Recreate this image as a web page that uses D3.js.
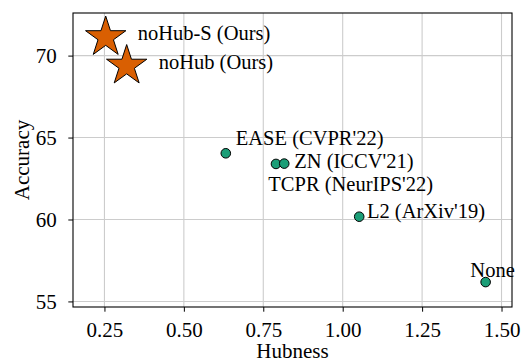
<!DOCTYPE html>
<html>
<head>
<meta charset="utf-8">
<script src="https://cdn.jsdelivr.net/npm/d3@7"></script>
<style>
  body { margin: 0; background: #fff; }
  svg { display: block; }
  text { font-family: "Liberation Serif", "DejaVu Serif", serif; fill: #000; }
</style>
</head>
<body>
<div id="chart"></div>
<script>
// methods (ours are stars, others dots)
var ours = ['noHub-S (Ours)', 'noHub (Ours)']
var oursHub = [0.254, 0.32]
var oursAcc = [71.12, 69.38]

var methods = ['EASE (CVPR\'22)', 'TCPR (NeurIPS\'22)', 'ZN (ICCV\'21)', 'L2 (ArXiv\'19)', 'None']
var methodsHub = [0.632, 0.79, 0.816, 1.052, 1.45]
var methodsAcc = [64.04, 63.39, 63.41, 60.17, 56.18]

var xTicks = [0.25, 0.50, 0.75, 1.00, 1.25, 1.50]
var yTicks = [55, 60, 65, 70]

var width = 528
var height = 363
var margin = {top: 13, right: 16, bottom: 56, left: 73}
var w = width - margin.left - margin.right
var h = height - margin.top - margin.bottom
var fs = 21
var labelFs = 20.5

var x = d3.scaleLinear().domain([0.151, 1.533]).range([0, w])
var y = d3.scaleLinear().domain([54.66, 72.6]).range([h, 0])

var svg = d3.select('#chart')
  .append('svg')
  .attr('width', width)
  .attr('height', height)
var g = svg.append('g')
  .attr('transform', 'translate(' + margin.left + ',' + margin.top + ')')

// grid
g.append('g')
  .selectAll('line')
  .data(xTicks)
  .enter()
  .append('line')
  .attr('x1', (d) => x(d)).attr('x2', (d) => x(d))
  .attr('y1', 0).attr('y2', h)
  .attr('stroke', '#cccccc')
  .attr('stroke-width', 1.1)
g.append('g')
  .selectAll('line')
  .data(yTicks)
  .enter()
  .append('line')
  .attr('x1', 0).attr('x2', w)
  .attr('y1', (d) => y(d)).attr('y2', (d) => y(d))
  .attr('stroke', '#cccccc')
  .attr('stroke-width', 1.1)

// axes
var xAxis = g.append('g')
  .attr('transform', 'translate(0,' + h + ')')
  .call(d3.axisBottom(x).tickValues(xTicks).tickFormat(d3.format('.2f')).tickSize(4.7))
var yAxis = g.append('g')
  .call(d3.axisLeft(y).tickValues(yTicks).tickFormat(d3.format('d')).tickSize(4.7).tickPadding(11.5))
;[xAxis, yAxis].forEach((a) => {
  a.select('.domain').remove()
  a.selectAll('text').attr('font-size', fs).attr('font-family', '"Liberation Serif", serif').attr('fill', '#000')
  a.selectAll('line').attr('stroke', '#000').attr('stroke-width', 1)
})
xAxis.selectAll('text').attr('y', 30).attr('dy', 0)

g.append('rect')
  .attr('x', 0).attr('y', 0)
  .attr('width', w).attr('height', h)
  .attr('fill', 'none')
  .attr('stroke', '#000')
  .attr('stroke-width', 1.1)

// axis titles
svg.append('text')
  .attr('x', margin.left + w / 2)
  .attr('y', 358)
  .attr('text-anchor', 'middle')
  .attr('font-size', fs)
  .text('Hubness')
svg.append('text')
  .attr('transform', 'translate(29,' + (margin.top + h / 2) + ') rotate(-90)')
  .attr('text-anchor', 'middle')
  .attr('font-size', fs)
  .text('Accuracy')

// points
g.selectAll('circle.m')
  .data(methods)
  .enter()
  .append('circle')
  .attr('class', 'm')
  .attr('cx', (d, i) => x(methodsHub[i]))
  .attr('cy', (d, i) => y(methodsAcc[i]))
  .attr('r', 4.8)
  .attr('fill', '#1b9e77')
  .attr('stroke', '#000')
  .attr('stroke-width', 1)

var star = d3.symbol().type(d3.symbolStar).size(505)
g.selectAll('path.o')
  .data(ours)
  .enter()
  .append('path')
  .attr('class', 'o')
  .attr('d', star)
  .attr('transform', (d, i) => 'translate(' + x(oursHub[i]) + ',' + y(oursAcc[i]) + ')')
  .attr('fill', '#d95f02')
  .attr('stroke', '#000')
  .attr('stroke-width', 1)

// labels, offsets in pixels from the point
var oursOff = [[32, -4.5], [32, -4]]
var methodsOff = [[10, -15.2], [-7.7, 19.9], [10, -2.2], [7.7, -5.3], [-15.3, -12.3]]
g.selectAll('text.o')
  .data(ours)
  .enter()
  .append('text')
  .attr('class', 'o')
  .attr('x', (d, i) => x(oursHub[i]) + oursOff[i][0])
  .attr('y', (d, i) => y(oursAcc[i]) + oursOff[i][1])
  .attr('dy', '0.33em')
  .attr('font-size', labelFs)
  .text((d) => d)
g.selectAll('text.m')
  .data(methods)
  .enter()
  .append('text')
  .attr('class', 'm')
  .attr('x', (d, i) => x(methodsHub[i]) + methodsOff[i][0])
  .attr('y', (d, i) => y(methodsAcc[i]) + methodsOff[i][1])
  .attr('dy', '0.33em')
  .attr('font-size', labelFs)
  .text((d) => d)
</script>
</body>
</html>
